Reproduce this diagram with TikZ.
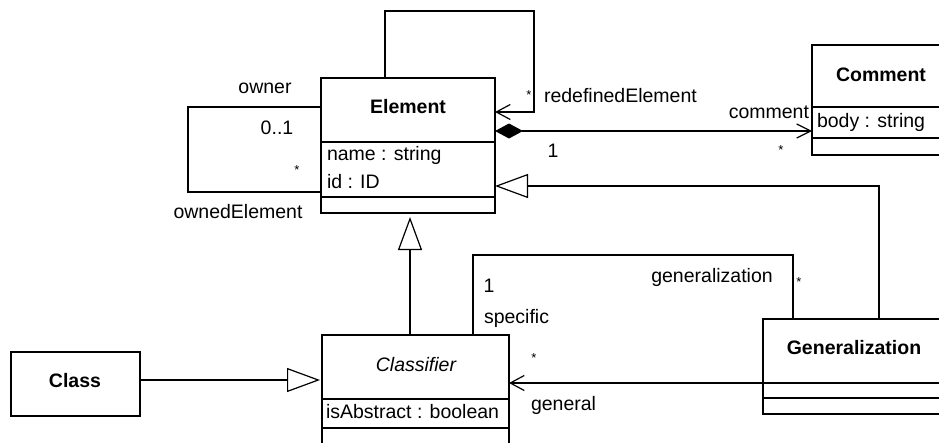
\documentclass[tikz,border=0pt]{standalone}
\usepackage{fontspec}
\setmainfont{Liberation Sans}
\usetikzlibrary{arrows.meta}
\begin{document}
\begin{tikzpicture}[x=1pt,y=-1pt,
  font=\fontsize{19.5}{22}\selectfont,
  every node/.style={inner sep=0pt, outer sep=0pt},
  box/.style={draw, line width=1.2pt, anchor=north west, fill=white},
  ln/.style={line width=1.2pt},
  sep/.style={line width=1.2pt},
  title/.style={font=\fontsize{19.5}{22}\selectfont\bfseries},
  star/.style={font=\fontsize{13}{14}\selectfont},
  barb/.style={-{Straight Barb[length=14pt,width=15pt,line width=1.2pt]}},
  inh/.style={-{Triangle[open,length=33pt,width=24pt,line width=1.2pt,fill=white]}}
]
\useasboundingbox (0,0) rectangle (939,442);
\clip (0,0) rectangle (939,442);

% class boxes
\node[box, minimum width=174pt, minimum height=135pt] (element) at (321,78) {};
\draw[sep] (321,142) -- (495,142);
\draw[sep] (321,197) -- (495,197);

\node[box, minimum width=140pt, minimum height=110pt] (comment) at (812,45) {};
\draw[sep] (812,107) -- (952,107);
\draw[sep] (812,138) -- (952,138);

\node[box, minimum width=187pt, minimum height=130pt] (classifier) at (322,335) {};
\draw[sep] (322,399) -- (509,399);
\draw[sep] (322,428) -- (509,428);

\node[box, minimum width=184pt, minimum height=95pt] (generalization) at (763,319) {};
\draw[sep] (763,383) -- (947,383);
\draw[sep] (763,398) -- (947,398);

\node[box, minimum width=129pt, minimum height=64pt] (class) at (11,352) {};

% texts in boxes
\node[title] (telement) at (408,107) {Element};
\node[anchor=west] (aname) at (327,155) {name : string};
\node[anchor=west] (aid) at (327,182) {id : ID};
\node[title] (tcomment) at (881,75) {Comment};
\node[anchor=west] (abody) at (817,122) {body : string};
\node[font=\fontsize{19.5}{22}\selectfont\itshape] (tclassifier) at (416,365) {Classifier};
\node[anchor=west] (aabs) at (326,412) {isAbstract : boolean};
\node[title] (tgen) at (854,348) {Generalization};
\node[title] (tclass) at (75,381) {Class};

% bend coordinates
\coordinate (r1) at (385,11);
\coordinate (r2) at (534,112);
\coordinate (o1) at (188,107);
\coordinate (o2) at (188,192);
\coordinate (cm) at (650,131);
\coordinate (g1) at (879,186);
\coordinate (v1) at (410,300);
\coordinate (c1) at (200,380);
\coordinate (s1) at (793,255);
\coordinate (s2) at (473,255);
\coordinate (gl) at (650,383);

% connectors
\draw[ln, barb] (element.north -| r1) -- (r1) -| (r2) -- (element.east |- r2);
\draw[ln] (element.west |- o1) -- (o1) -- (o2) -- (element.west |- o2);
\draw[ln, {Diamond[length=28pt,width=15pt,fill=black]}-{Straight Barb[length=14pt,width=14pt,line width=1.2pt]}]
  (element.east |- cm) -- (comment.west |- cm);
\draw[ln, inh] (generalization.north -| g1) -- (g1) -- (element.east |- g1);
\draw[ln, inh, shorten >=4pt] (classifier.north -| v1) -- (element.south -| v1);
\draw[ln, inh, shorten >=2pt] (class.east |- c1) -- (classifier.west |- c1);
\draw[ln] (generalization.north -| s1) -- (s1) -- (s2) -- (classifier.north -| s2);
\draw[ln, barb] (generalization.east |- gl) -- (classifier.east |- gl);

% association labels
\node (lowner) at (265,88) {owner};
\node (l01) at (277,128) {0..1};
\node[star] (ls1) at (297,170) {*};
\node (lowned) at (238,212) {ownedElement};
\node[star] (ls2) at (529,95) {*};
\node[anchor=west] (lredef) at (544,96) {redefinedElement};
\node[anchor=east] (lcomment) at (809,112) {comment};
\node (l1a) at (553,151) {1};
\node[star] (ls3) at (781,150) {*};
\node (l1b) at (489,286) {1};
\node[anchor=west] (lspec) at (484,318) {specific};
\node (lgenz) at (712,277) {generalization};
\node[star] (ls4) at (799,282) {*};
\node[star] (ls5) at (534,358) {*};
\node[anchor=west] (lgeneral) at (531,405) {general};
\end{tikzpicture}
\end{document}
